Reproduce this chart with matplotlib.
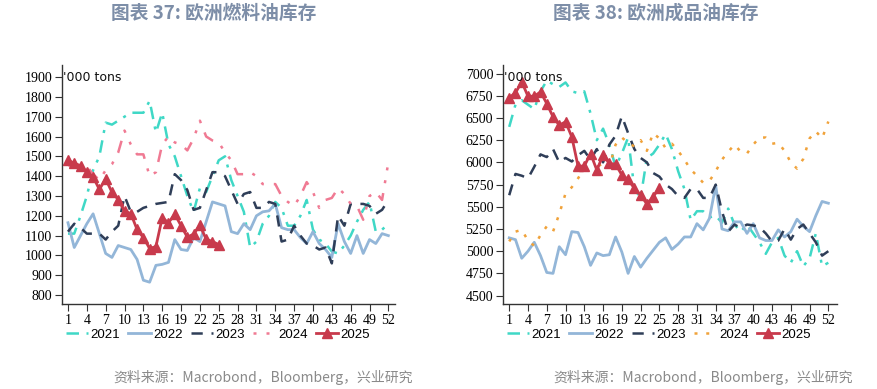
import matplotlib
matplotlib.use("Agg")
import matplotlib.pyplot as plt
import numpy as np

weeks = list(range(1, 53))
xtick_weeks = list(range(1, 53, 3))

# ---- Chart 37: European fuel oil inventory ('000 tons)
fo_2021 = [1110, 1110, 1200, 1300, 1430, 1500, 1670, 1660, 1680, 1700, 1720, 1720, 1720, 1780,
           1620, 1720, 1560, 1500, 1400, 1300, 1220, 1340, 1320, 1400, 1480, 1500, 1380, 1300,
           1220, 1040, 1070, 1160, 1200, 1270, 1240, 1150, 1150, 1200, 1280, 1130, 1080, 1060,
           1020, 1010, 1050, 1100, 1170, 1230, 1270, 1120, 1130, 1160]
fo_2022 = [1165, 1040, 1100, 1160, 1210, 1110, 1010, 990, 1050, 1040, 1030, 980, 875, 865,
           950, 955, 965, 1080, 1030, 1025, 1090, 1070, 1170, 1270, 1260, 1250, 1120, 1110,
           1160, 1130, 1200, 1220, 1225, 1260, 1140, 1130, 1130, 1090, 1060, 1120, 1060, 1030,
           990, 1160, 1070, 1010, 1100, 1010, 1080, 1060, 1110, 1100]
fo_2023 = [1120, 1160, 1140, 1110, 1110, 1110, 1080, 1120, 1150, 1300, 1220, 1220, 1240, 1250,
           1260, 1265, 1270, 1410, 1380, 1330, 1230, 1240, 1330, 1420, 1420, 1400, 1330, 1260,
           1310, 1320, 1240, 1240, 1270, 1260, 1070, 1080, 1150, 1100, 1060, 1050, 1030, 1040,
           960, 1200, 1150, 1260, 1260, 1260, 1250, 1210, 1230, 1280]
fo_2024 = [1460, 1430, 1430, 1450, 1410, 1380, 1430, 1460, 1520, 1630, 1560, 1510, 1510, 1400,
           1420, 1560, 1600, 1570, 1560, 1530, 1590, 1680, 1600, 1580, 1570, 1520, 1480, 1410,
           1410, 1420, 1400, 1360, 1360, 1360, 1300, 1270, 1250, 1300, 1370, 1320, 1240, 1280,
           1290, 1340, 1310, 1260, 1250, 1180, 1300, 1320, 1280, 1470]
fo_2025 = [1480, 1465, 1453, 1420, 1396, 1333, 1386, 1319, 1282, 1223, 1211, 1131, 1090, 1035,
           1045, 1190, 1165, 1208, 1150, 1092, 1108, 1152, 1082, 1070, 1055]

# ---- Chart 38: European refined products inventory ('000 tons)
rp_2021 = [6400, 6650, 6700, 6650, 6600, 6800, 6920, 6880, 6850, 6900, 6800, 6780, 6800, 6550,
           6250, 6380, 6200, 5950, 6100, 6280, 5700, 5600, 6050, 6100, 6200, 6320, 6150, 5900,
           5700, 5350, 5450, 5450, 5380, 5400, 5320, 5480, 5300, 5220, 5300, 5200, 5100, 4970,
           5100, 5150, 4950, 4870, 5000, 4830, 4920, 5200, 4830, 4870]
rp_2022 = [5150, 5130, 4920, 5000, 5100, 4950, 4760, 4750, 5050, 4960, 5220, 5210, 5050, 4840,
           4980, 4950, 4960, 5160, 4990, 4750, 4940, 4820, 4920, 5010, 5100, 5150, 5020, 5080,
           5160, 5160, 5310, 5240, 5370, 5740, 5250, 5230, 5330, 5330, 5200, 5310, 5150, 5120,
           5120, 5240, 5160, 5220, 5360, 5280, 5220, 5400, 5560, 5540]
rp_2023 = [5630, 5870, 5850, 5820, 5950, 6090, 6060, 6150, 6000, 6050, 6010, 6080, 6130, 6030,
           6150, 6000, 6200, 6300, 6520, 6330, 6150, 6050, 6000, 5880, 5840, 5750, 5700, 5620,
           5600, 5700, 5700, 5600, 5600, 5750, 5450, 5220, 5300, 5260, 5300, 5290, 5270, 5200,
           5110, 5120, 5250, 5130, 5250, 5300, 5200, 5100, 4950, 5000]
rp_2024 = [5110, 5220, 5240, 5120, 5060, 5180, 5280, 5220, 5420, 5650, 5720, 5820, 5930, 6050,
           6020, 5920, 5950, 6200, 6280, 6220, 6180, 6250, 6130, 6330, 6270, 6160, 6210, 6130,
           6030, 5920, 5850, 5770, 5790, 5900, 6030, 6120, 6200, 6120, 6100, 6200, 6280, 6280,
           6210, 6220, 6130, 6000, 5930, 6040, 6270, 6350, 6270, 6460]
rp_2025 = [6730, 6783, 6906, 6745, 6745, 6794, 6663, 6513, 6419, 6457, 6288, 5958, 5958, 6100,
           5913, 6082, 5988, 5980, 5857, 5808, 5707, 5632, 5531, 5613, 5714]

fo_yticks = list(range(800, 2000, 100))
rp_yticks = list(range(4500, 7001, 250))

title_left = "图表 37: 欧洲燃料油库存"
title_right = "图表 38: 欧洲成品油库存"
source = "资料来源：Macrobond，Bloomberg，兴业研究"
unit = "'000 tons"

C21 = "#3fd8c6"
C22 = "#93b6d8"
C23 = "#2f3e58"
C24L = "#f07a93"
C24R = "#f0a23a"
C25 = "#c83a4c"

tick_font = ["Liberation Serif", "DejaVu Serif"]
leg_font = ["Liberation Sans", "DejaVu Sans"]
cjk = ["Noto Sans CJK SC", "DejaVu Sans"]

fig = plt.figure(figsize=(8.77, 3.89), dpi=100)
fig.patch.set_facecolor("white")

ax1 = fig.add_axes([0.0707, 0.2185, 0.380, 0.614])
ax2 = fig.add_axes([0.5735, 0.2185, 0.381, 0.614])

lw = 1.8

def draw(ax, d21, d22, d23, d24, d25, c24, ls24, yticks, ylim, xlim):
    ax.plot(weeks, d21, color=C21, lw=lw, ls=(0, (5, 3, 1.2, 3)), label="2021")
    ax.plot(weeks, d22, color=C22, lw=2.0, ls="-", label="2022")
    ax.plot(weeks, d23, color=C23, lw=lw, ls=(0, (4.5, 3.5)), label="2023")
    ax.plot(weeks, d24, color=c24, lw=lw, ls=ls24, label="2024")
    ax.plot(weeks[:len(d25)], d25, color=C25, lw=2.0, marker="^", ms=7.5,
            label="2025")
    ax.set_xlim(*xlim)
    ax.set_ylim(*ylim)
    ax.set_xticks(xtick_weeks)
    ax.set_xticklabels([str(w) for w in xtick_weeks])
    ax.set_yticks(yticks)
    ax.set_yticklabels([str(v) for v in yticks])
    for s in ["top", "right"]:
        ax.spines[s].set_visible(False)
    for s in ["left", "bottom"]:
        ax.spines[s].set_color("#333333")
        ax.spines[s].set_linewidth(1.0)
    ax.tick_params(axis="both", direction="out", length=5, width=0.8,
                   color="#333333", labelsize=10, pad=2)
    for lab in ax.get_xticklabels() + ax.get_yticklabels():
        lab.set_fontfamily(tick_font)
    ax.text(0.003, 0.975, unit, transform=ax.transAxes, ha="left", va="top",
            fontsize=9, family=["DejaVu Sans"], color="#111111")
    leg = ax.legend(loc="upper left", bbox_to_anchor=(-0.005, -0.08), ncol=5,
                    frameon=False, fontsize=9.5, handlelength=1.7,
                    handletextpad=0.2, columnspacing=0.6, borderaxespad=0)
    for t in leg.get_texts():
        t.set_fontfamily(leg_font)

draw(ax1, fo_2021, fo_2022, fo_2023, fo_2024, fo_2025, C24L, (0, (1.2, 4, 1.2, 4, 5, 4)),
     fo_yticks, (755, 1960), (0.05, 53.1))
draw(ax2, rp_2021, rp_2022, rp_2023, rp_2024, rp_2025, C24R, (0, (1.2, 3.5)),
     rp_yticks, (4405, 7095), (0.0, 53.4))

fig.text(214 / 877, 1 - 13 / 389, title_left, ha="center", va="center",
         fontsize=13.5, fontweight="bold", color="#7d8ea8", family=cjk)
fig.text(656 / 877, 1 - 13 / 389, title_right, ha="center", va="center",
         fontsize=13.5, fontweight="bold", color="#7d8ea8", family=cjk)
fig.text(113 / 877, 1 - 377 / 389, source, ha="left", va="center",
         fontsize=10, color="#8a8a8a", family=cjk)
fig.text(553 / 877, 1 - 377 / 389, source, ha="left", va="center",
         fontsize=10, color="#8a8a8a", family=cjk)

fig.savefig("out.png", dpi=100, facecolor="white")
